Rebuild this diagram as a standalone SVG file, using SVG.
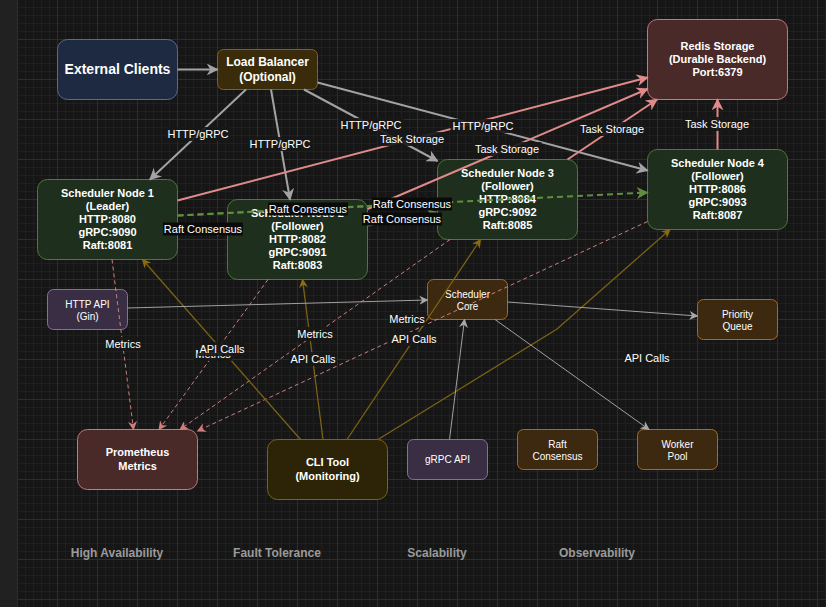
<svg xmlns="http://www.w3.org/2000/svg" width="826" height="607" viewBox="0 0 826 607">
<defs>
<pattern id="grid" x="17" y="-1" width="40" height="40" patternUnits="userSpaceOnUse">
<path d="M8.5 0V40M16.5 0V40M24.5 0V40M32.5 0V40M0 8.5H40M0 16.5H40M0 24.5H40M0 32.5H40" stroke="#1f1f1f" stroke-width="1"/>
<path d="M0.5 0V40M0 0.5H40" stroke="#2c2c2c" stroke-width="1"/>
</pattern>
<marker id="aGray" viewBox="0 0 10 10" refX="9" refY="5" markerWidth="12" markerHeight="12" markerUnits="userSpaceOnUse" orient="auto"><path d="M0,0 L10,5 L0,10 L3,5z" fill="#a3a3a3"/></marker>
<marker id="aPink" viewBox="0 0 10 10" refX="9" refY="5" markerWidth="12" markerHeight="12" markerUnits="userSpaceOnUse" orient="auto"><path d="M0,0 L10,5 L0,10 L3,5z" fill="#e08a8a"/></marker>
<marker id="aGreen" viewBox="0 0 10 10" refX="9" refY="5" markerWidth="12" markerHeight="12" markerUnits="userSpaceOnUse" orient="auto"><path d="M0,0 L10,5 L0,10 L3,5z" fill="#5f8f3e"/></marker>
<marker id="aPinkS" viewBox="0 0 10 10" refX="9" refY="5" markerWidth="9" markerHeight="9" markerUnits="userSpaceOnUse" orient="auto"><path d="M0,0 L10,5 L0,10 L3,5z" fill="#d07c7c"/></marker>
<marker id="aGold" viewBox="0 0 10 10" refX="9" refY="5" markerWidth="9" markerHeight="9" markerUnits="userSpaceOnUse" orient="auto"><path d="M0,0 L10,5 L0,10 L3,5z" fill="#8a6a12"/></marker>
<marker id="aGrayS" viewBox="0 0 10 10" refX="9" refY="5" markerWidth="9" markerHeight="9" markerUnits="userSpaceOnUse" orient="auto"><path d="M0,0 L10,5 L0,10 L3,5z" fill="#a8a8a8"/></marker>
</defs>
<style>
text{font-family:"Liberation Sans",Arial,Helvetica,sans-serif;text-anchor:middle;fill:#ffffff}
.b{font-weight:bold}
.f14{font-size:14px}
.f12{font-size:12px}
.f11{font-size:11px}
.f10{font-size:10px}
.client{fill:#1e2a42;stroke:#566d90;stroke-width:1}
.lb{fill:#3a2c0b;stroke:#7d6220;stroke-width:1}
.sched{fill:#1f2f1e;stroke:#4d7a39;stroke-width:1}
.store{fill:#4a2929;stroke:#c27a7a;stroke-width:1}
.cli{fill:#2d2307;stroke:#7a6418;stroke-width:1}
.api{fill:#3a2e45;stroke:#85709a;stroke-width:1}
.comp{fill:#3d2810;stroke:#9e6d2c;stroke-width:1}
.eGray{stroke:#a3a3a3;stroke-width:2;fill:none;marker-end:url(#aGray)}
.ePink{stroke:#e08a8a;stroke-width:2;fill:none;marker-end:url(#aPink)}
.eGreen{stroke:#5f8f3e;stroke-width:2;fill:none;stroke-dasharray:6 4;marker-end:url(#aGreen)}
.eMet{stroke:#c97f7f;stroke-width:1;fill:none;stroke-dasharray:4 3;marker-end:url(#aPinkS)}
.eApi{stroke:#7a6214;stroke-width:1.3;fill:none;marker-end:url(#aGold)}
.eThin{stroke:#a0a0a0;stroke-width:1;fill:none;marker-end:url(#aGrayS)}
.lbg{fill:#171717;fill-opacity:0.9}
.rbg{fill:#0a0a0a}
.foot{fill:#9a9a9a;font-size:12px;font-weight:bold}
</style>
<rect x="0" y="0" width="826" height="607" fill="#161616"/>
<rect x="17" y="0" width="809" height="607" fill="url(#grid)"/>
<rect x="0" y="0" width="17" height="607" fill="#212121"/>

<g id="nodes">
<g id="external-clients"><rect class="client" x="57.5" y="39.5" width="120" height="60" rx="10"/><text class="b f14" x="117.5" y="74">External Clients</text></g>
<g id="load-balancer"><rect class="lb" x="217.5" y="49.5" width="100" height="40" rx="6"/><text class="b f12" x="267.5" y="66">Load Balancer</text><text class="b f12" x="267.5" y="81">(Optional)</text></g>
<g id="redis"><rect class="store" x="647.5" y="19.5" width="140" height="80" rx="10"/><text class="b f11" x="717.5" y="50">Redis Storage</text><text class="b f11" x="717.5" y="63">(Durable Backend)</text><text class="b f11" x="717.5" y="76">Port:6379</text></g>
<g id="node1"><rect class="sched" x="37.5" y="179.5" width="140" height="80" rx="10"/><text class="b f11" x="107.5" y="197">Scheduler Node 1</text><text class="b f11" x="107.5" y="210">(Leader)</text><text class="b f11" x="107.5" y="223">HTTP:8080</text><text class="b f11" x="107.5" y="236">gRPC:9090</text><text class="b f11" x="107.5" y="249">Raft:8081</text></g>
<g id="node2"><rect class="sched" x="227.5" y="199.5" width="140" height="80" rx="10"/><text class="b f11" x="297.5" y="217">Scheduler Node 2</text><text class="b f11" x="297.5" y="230">(Follower)</text><text class="b f11" x="297.5" y="243">HTTP:8082</text><text class="b f11" x="297.5" y="256">gRPC:9091</text><text class="b f11" x="297.5" y="269">Raft:8083</text></g>
<g id="node3"><rect class="sched" x="437.5" y="159.5" width="140" height="80" rx="10"/><text class="b f11" x="507.5" y="177">Scheduler Node 3</text><text class="b f11" x="507.5" y="190">(Follower)</text><text class="b f11" x="507.5" y="203">HTTP:8084</text><text class="b f11" x="507.5" y="216">gRPC:9092</text><text class="b f11" x="507.5" y="229">Raft:8085</text></g>
<g id="node4"><rect class="sched" x="647.5" y="149.5" width="140" height="80" rx="10"/><text class="b f11" x="717.5" y="167">Scheduler Node 4</text><text class="b f11" x="717.5" y="180">(Follower)</text><text class="b f11" x="717.5" y="193">HTTP:8086</text><text class="b f11" x="717.5" y="206">gRPC:9093</text><text class="b f11" x="717.5" y="219">Raft:8087</text></g>
<g id="http-api"><rect class="api" x="47.5" y="289.5" width="80" height="40" rx="6"/><text class="f10" x="87.5" y="308">HTTP API</text><text class="f10" x="87.5" y="320">(Gin)</text></g>
<g id="scheduler-core"><rect class="comp" x="427.5" y="279.5" width="80" height="40" rx="6"/><text class="f10" x="467.5" y="298">Scheduler</text><text class="f10" x="467.5" y="310">Core</text></g>
<g id="priority-queue"><rect class="comp" x="697.5" y="299.5" width="80" height="40" rx="6"/><text class="f10" x="737.5" y="318">Priority</text><text class="f10" x="737.5" y="330">Queue</text></g>
<g id="prometheus"><rect class="store" x="77.5" y="429.5" width="120" height="60" rx="10"/><text class="b f11" x="137.5" y="456">Prometheus</text><text class="b f11" x="137.5" y="470">Metrics</text></g>
<g id="cli-tool"><rect class="cli" x="267.5" y="439.5" width="120" height="60" rx="10"/><text class="b f11" x="327.5" y="466">CLI Tool</text><text class="b f11" x="327.5" y="480">(Monitoring)</text></g>
<g id="grpc-api"><rect class="api" x="407.5" y="439.5" width="80" height="40" rx="6"/><text class="f10" x="447.5" y="463">gRPC API</text></g>
<g id="raft-consensus"><rect class="comp" x="517.5" y="429.5" width="80" height="40" rx="6"/><text class="f10" x="557.5" y="448">Raft</text><text class="f10" x="557.5" y="460">Consensus</text></g>
<g id="worker-pool"><rect class="comp" x="637.5" y="429.5" width="80" height="40" rx="6"/><text class="f10" x="677.5" y="448">Worker</text><text class="f10" x="677.5" y="460">Pool</text></g>
</g>

<g id="connectors">
<path class="eGray" d="M177.5 69.5 L217.5 69.5"/>
<path class="eGray" d="M246 89.5 L150 179.5"/>
<path class="eGray" d="M271 89.5 L290 199.5"/>
<path class="eGray" d="M304 89.5 L437.5 161"/>
<path class="eGray" d="M317.5 82.5 L647.5 170.5"/>
<path class="ePink" d="M177.5 200.5 L647.5 77.5"/>
<path class="ePink" d="M367.5 209 L647.5 89"/>
<path class="ePink" d="M567.5 159.5 L657 99.5"/>
<path class="ePink" d="M717.5 149.5 L717.5 99.5"/>
<path class="eGreen" d="M177.5 226.5 L227.5 231.5"/>
<path class="eGreen" d="M177.5 215.5 L437.5 202.5"/>
<path class="eGreen" d="M177.5 215.5 L647.5 192.5"/>
<path class="eGreen" d="M367.5 225.5 L437.5 212.5"/>
<path class="eMet" d="M112 259.5 L133.5 429.5"/>
<path class="eMet" d="M268 279.5 L159 429.5"/>
<path class="eMet" d="M450 239.5 L180 429.5"/>
<path class="eMet" d="M647.5 221.5 L197.5 431"/>
<path class="eApi" d="M300.5 439.5 L142.5 259.5"/>
<path class="eApi" d="M323 439.5 L302.5 279.5"/>
<path class="eApi" d="M347 439.5 L480.5 239.5"/>
<path class="eApi" d="M378 439.5 L557 329 L670 229.5"/>
<path class="eThin" d="M127.5 308 L427.5 300"/>
<path class="eThin" d="M449.5 439.5 L464.5 319.5"/>
<path class="eThin" d="M507.5 302 L697.5 316"/>
<path class="eThin" d="M495 319.5 L649 429.5"/>
</g>

<g id="edge-labels">
<rect class="lbg" x="165.5" y="127" width="65" height="14"/><text class="f11" x="198" y="138">HTTP/gRPC</text>
<rect class="lbg" x="247.5" y="137" width="65" height="14"/><text class="f11" x="280" y="148">HTTP/gRPC</text>
<rect class="lbg" x="338.5" y="118" width="65" height="14"/><text class="f11" x="371" y="129">HTTP/gRPC</text>
<rect class="lbg" x="450.5" y="119" width="65" height="14"/><text class="f11" x="483" y="130">HTTP/gRPC</text>
<rect class="lbg" x="377.5" y="132" width="69" height="14"/><text class="f11" x="412" y="143">Task Storage</text>
<rect class="lbg" x="472.5" y="142" width="69" height="14"/><text class="f11" x="507" y="153">Task Storage</text>
<rect class="lbg" x="577.5" y="122" width="69" height="14"/><text class="f11" x="612" y="133">Task Storage</text>
<rect class="lbg" x="682.5" y="117" width="69" height="14"/><text class="f11" x="717" y="128">Task Storage</text>
<rect class="rbg" x="163" y="222.5" width="80" height="13"/><text class="f11" x="203" y="233">Raft Consensus</text>
<rect class="rbg" x="268" y="202.5" width="80" height="13"/><text class="f11" x="308" y="213">Raft Consensus</text>
<rect class="rbg" x="362" y="212.5" width="80" height="13"/><text class="f11" x="402" y="223">Raft Consensus</text>
<rect class="rbg" x="372" y="197.5" width="80" height="13"/><text class="f11" x="412" y="208">Raft Consensus</text>
<rect class="lbg" x="104" y="337" width="38" height="14"/><text class="f11" x="123" y="348">Metrics</text>
<rect class="lbg" x="194" y="347" width="38" height="14"/><text class="f11" x="213" y="358">Metrics</text>
<rect class="lbg" x="296" y="327" width="38" height="14"/><text class="f11" x="315" y="338">Metrics</text>
<rect class="lbg" x="388" y="312" width="38" height="14"/><text class="f11" x="407" y="323">Metrics</text>
<rect class="lbg" x="198" y="342" width="48" height="14"/><text class="f11" x="222" y="353">API Calls</text>
<rect class="lbg" x="289" y="352" width="48" height="14"/><text class="f11" x="313" y="363">API Calls</text>
<rect class="lbg" x="390" y="332" width="48" height="14"/><text class="f11" x="414" y="343">API Calls</text>
<rect class="lbg" x="623" y="351" width="48" height="14"/><text class="f11" x="647" y="362">API Calls</text>
</g>

<g id="footer">
<text class="foot" x="117" y="557">High Availability</text>
<text class="foot" x="277" y="557">Fault Tolerance</text>
<text class="foot" x="437" y="557">Scalability</text>
<text class="foot" x="597" y="557">Observability</text>
</g>
</svg>
